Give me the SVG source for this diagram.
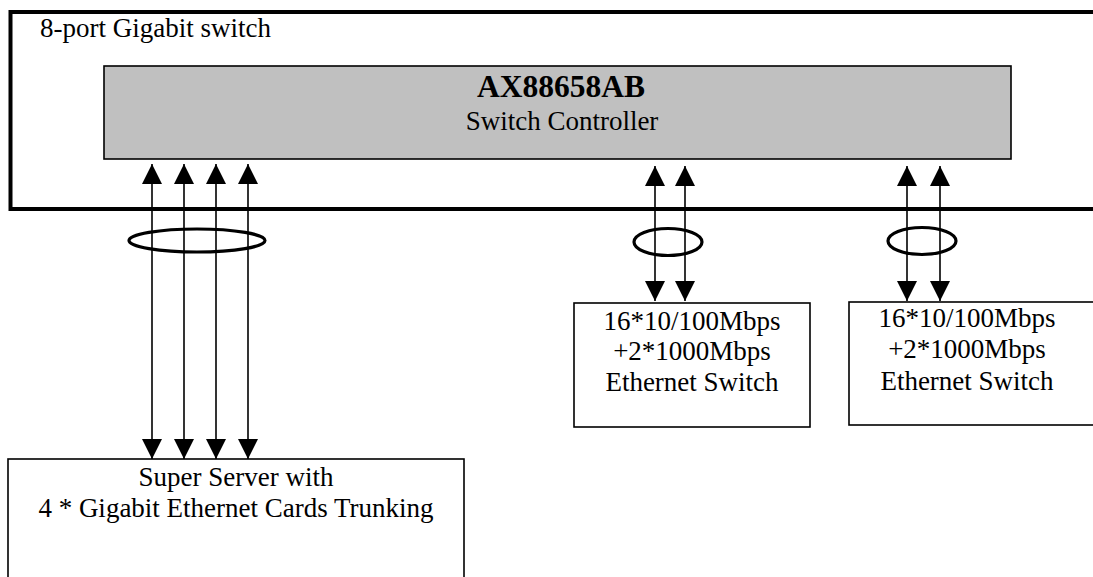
<svg xmlns="http://www.w3.org/2000/svg" width="1093" height="577" viewBox="0 0 1093 577">
<style>
text{font-family:"Liberation Serif","Times New Roman",serif;fill:#000}
.t{font-size:27px}
.b{font-size:31.5px;font-weight:bold}
.box{fill:#fff;stroke:#000;stroke-width:1.6}
.ln{stroke:#000;stroke-width:1.6;fill:none}
.ring{fill:none;stroke:#000;stroke-width:3.2}
</style>
<defs>
<marker id="ah" markerUnits="userSpaceOnUse" markerWidth="20" markerHeight="20" refX="20" refY="10" orient="auto-start-reverse" viewBox="0 0 20 20">
<path d="M0,0 L20,10 L0,20 z" fill="#000"/>
</marker>
</defs>
<rect width="1093" height="577" fill="#fff"/>
<g id="switch">
<rect x="10.5" y="12" width="1100" height="197" fill="none" stroke="#000" stroke-width="4"/>
<text class="t" x="40" y="37">8-port Gigabit switch</text>
</g>
<g id="controller">
<rect x="104" y="66" width="907" height="93" fill="#c0c0c0" stroke="#000" stroke-width="1.6"/>
<text class="b" x="561" y="97" text-anchor="middle">AX88658AB</text>
<text class="t" x="562" y="130" text-anchor="middle">Switch Controller</text>
</g>
<g id="server">
<rect class="box" x="8" y="459" width="456" height="140"/>
<text class="t" x="236" y="486" text-anchor="middle">Super Server with</text>
<text class="t" x="236" y="517" text-anchor="middle">4 * Gigabit Ethernet Cards Trunking</text>
</g>
<g id="eswitch1">
<rect class="box" x="574" y="303" width="236" height="124"/>
<text class="t" x="692" y="330" text-anchor="middle">16*10/100Mbps</text>
<text class="t" x="692" y="360" text-anchor="middle">+2*1000Mbps</text>
<text class="t" x="692" y="391" text-anchor="middle">Ethernet Switch</text>
</g>
<g id="eswitch2">
<rect class="box" x="849" y="302" width="260" height="123"/>
<text class="t" x="967" y="327" text-anchor="middle">16*10/100Mbps</text>
<text class="t" x="967" y="358" text-anchor="middle">+2*1000Mbps</text>
<text class="t" x="967" y="390" text-anchor="middle">Ethernet Switch</text>
</g>
<g id="connectors">
<line class="ln" x1="152" y1="164" x2="152" y2="459" marker-start="url(#ah)" marker-end="url(#ah)"/>
<line class="ln" x1="184" y1="164" x2="184" y2="459" marker-start="url(#ah)" marker-end="url(#ah)"/>
<line class="ln" x1="216" y1="164" x2="216" y2="459" marker-start="url(#ah)" marker-end="url(#ah)"/>
<line class="ln" x1="248" y1="164" x2="248" y2="459" marker-start="url(#ah)" marker-end="url(#ah)"/>
<line class="ln" x1="655" y1="166" x2="655" y2="301" marker-start="url(#ah)" marker-end="url(#ah)"/>
<line class="ln" x1="685" y1="166" x2="685" y2="301" marker-start="url(#ah)" marker-end="url(#ah)"/>
<line class="ln" x1="907" y1="166" x2="907" y2="301" marker-start="url(#ah)" marker-end="url(#ah)"/>
<line class="ln" x1="940" y1="166" x2="940" y2="301" marker-start="url(#ah)" marker-end="url(#ah)"/>
<ellipse class="ring" cx="197" cy="240.5" rx="68" ry="11.5"/>
<ellipse class="ring" cx="668" cy="242" rx="34" ry="13.5"/>
<ellipse class="ring" cx="922" cy="241" rx="34" ry="13.5"/>
</g>
</svg>
